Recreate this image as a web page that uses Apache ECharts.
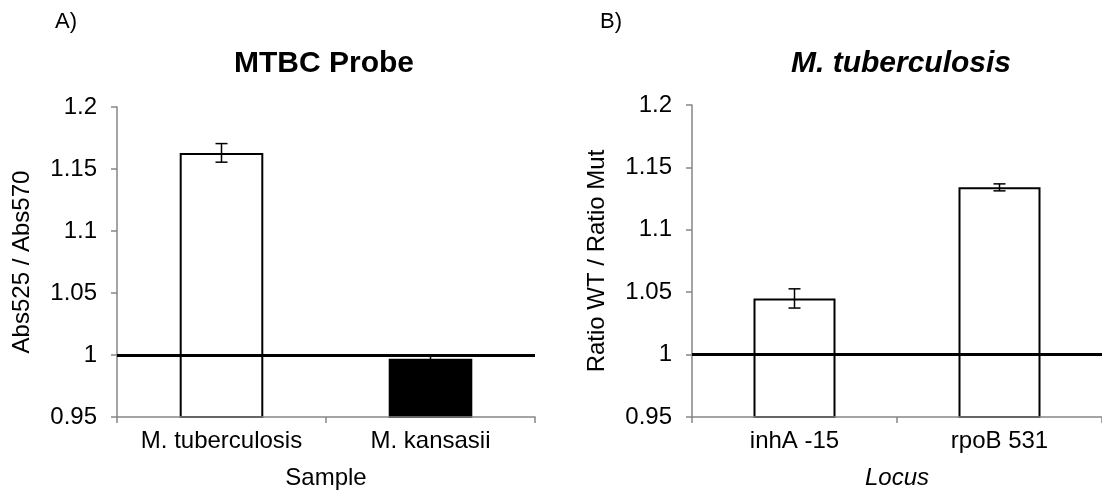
<!DOCTYPE html>
<html>
<head>
<meta charset="utf-8">
<script src="https://cdn.jsdelivr.net/npm/echarts@6/dist/echarts.min.js"></script>
<style>
    html, body { margin: 0; padding: 0; background: #fff; }
    #main { width: 1102px; height: 495px; }
</style>
</head>
<body>
<div id="main"></div>
<script>
// A) MTBC probe
var samplesA = ['M. tuberculosis', 'M. kansasii'];
var valuesA = [1.163, 0.997];
var errorsA = [0.0075, 0.0028];
var fillsA = ['#ffffff', '#000000'];

// B) M. tuberculosis loci
var lociB = ['inhA -15', 'rpoB 531'];
var valuesB = [1.045, 1.134];
var errorsB = [0.0077, 0.0028];
var fillsB = ['#ffffff', '#ffffff'];

var refLine = 1;

var FONT = '"Liberation Sans", Arial, sans-serif';
var AXIS_GREY = '#868686';

var barData = function (values, fills) {
    var out = [];
    for (var i = 0; i < values.length; i++) {
        out.push({
            value: values[i],
            itemStyle: {color: fills[i], borderColor: '#000', borderWidth: 2}
        });
    }
    return out;
};

var errData = function (values, errors) {
    var out = [];
    for (var i = 0; i < values.length; i++) {
        out.push([i, values[i] + errors[i], values[i] - errors[i]]);
    }
    return out;
};

// error bar with caps
var errorBarItem = function (params, api) {
    var top = api.coord([api.value(0), api.value(1)]);
    var bot = api.coord([api.value(0), api.value(2)]);
    var half = 6;
    var st = {stroke: '#000', lineWidth: 1.5};
    return {
        type: 'group',
        children: [
            {type: 'line', shape: {x1: top[0], y1: top[1], x2: bot[0], y2: bot[1]}, style: st},
            {type: 'line', shape: {x1: top[0] - half, y1: top[1], x2: top[0] + half, y2: top[1]}, style: st},
            {type: 'line', shape: {x1: bot[0] - half, y1: bot[1], x2: bot[0] + half, y2: bot[1]}, style: st}
        ]
    };
};

var yAxisOf = function (gridIndex, name) {
    return {
        type: 'value',
        gridIndex: gridIndex,
        min: 0.95,
        max: 1.2,
        interval: 0.05,
        name: name,
        nameLocation: 'middle',
        nameRotate: 90,
        nameGap: 83,
        nameTextStyle: {fontFamily: FONT, fontSize: 24, color: '#000'},
        axisLine: {show: true, lineStyle: {color: AXIS_GREY, width: 1.5}},
        axisTick: {show: true, length: 6, lineStyle: {color: AXIS_GREY, width: 1.5}},
        splitLine: {show: false},
        axisLabel: {
            fontFamily: FONT, fontSize: 24, color: '#000', margin: 20,
            formatter: function (v) { return String(parseFloat(v.toFixed(2))); }
        }
    };
};

var xAxisOf = function (gridIndex, cats, name, italic) {
    return {
        type: 'category',
        gridIndex: gridIndex,
        data: cats,
        z: 5,
        name: name,
        nameLocation: 'middle',
        nameGap: 49,
        nameTextStyle: {fontFamily: FONT, fontSize: 24, color: '#000', fontStyle: italic ? 'italic' : 'normal'},
        axisLine: {show: true, lineStyle: {color: AXIS_GREY, width: 1.5}},
        axisTick: {show: true, length: 6, lineStyle: {color: AXIS_GREY, width: 1.5}},
        axisLabel: {fontFamily: FONT, fontSize: 24, color: '#000', margin: 12, interval: 0}
    };
};

var markRef = {
    symbol: 'none',
    silent: true,
    label: {show: false},
    lineStyle: {color: '#000', width: 3, type: 'solid'},
    data: [{yAxis: refLine}]
};

var dom = document.getElementById('main');
var myChart = echarts.init(dom, null, {renderer: 'canvas'});
var option = {
    animation: false,
    backgroundColor: '#fff',
    grid: [
        {left: 117, right: 567, top: 107, bottom: 76},
        {left: 692, right: -8, top: 105, bottom: 76}
    ],
    xAxis: [
        xAxisOf(0, samplesA, 'Sample', false),
        xAxisOf(1, lociB, 'Locus', true)
    ],
    yAxis: [
        yAxisOf(0, 'Abs525 / Abs570'),
        yAxisOf(1, 'Ratio WT / Ratio Mut')
    ],
    graphic: [
        {type: 'text', x: 55, y: 22, style: {text: 'A)', font: '22px ' + FONT, fill: '#000', verticalAlign: 'middle'}},
        {type: 'text', x: 600, y: 22, style: {text: 'B)', font: '22px ' + FONT, fill: '#000', verticalAlign: 'middle'}},
        {type: 'text', x: 324, y: 64, style: {text: 'MTBC Probe', font: 'bold 30px ' + FONT, fill: '#000', align: 'center', verticalAlign: 'middle'}},
        {type: 'text', x: 901, y: 64, style: {text: 'M. tuberculosis', font: 'italic bold 30px ' + FONT, fill: '#000', align: 'center', verticalAlign: 'middle'}}
    ],
    series: [
        {
            name: 'MTBC',
            type: 'bar',
            xAxisIndex: 0,
            yAxisIndex: 0,
            barWidth: '40%',
            data: barData(valuesA, fillsA),
            markLine: markRef
        },
        {
            type: 'custom',
            xAxisIndex: 0,
            yAxisIndex: 0,
            z: 4,
            renderItem: errorBarItem,
            data: errData(valuesA, errorsA)
        },
        {
            name: 'Ratio',
            type: 'bar',
            xAxisIndex: 1,
            yAxisIndex: 1,
            barWidth: '40%',
            data: barData(valuesB, fillsB),
            markLine: markRef
        },
        {
            type: 'custom',
            xAxisIndex: 1,
            yAxisIndex: 1,
            z: 4,
            renderItem: errorBarItem,
            data: errData(valuesB, errorsB)
        }
    ]
};
if (option && typeof option === "object") {
    myChart.setOption(option, true);
}
</script>
</body>
</html>
